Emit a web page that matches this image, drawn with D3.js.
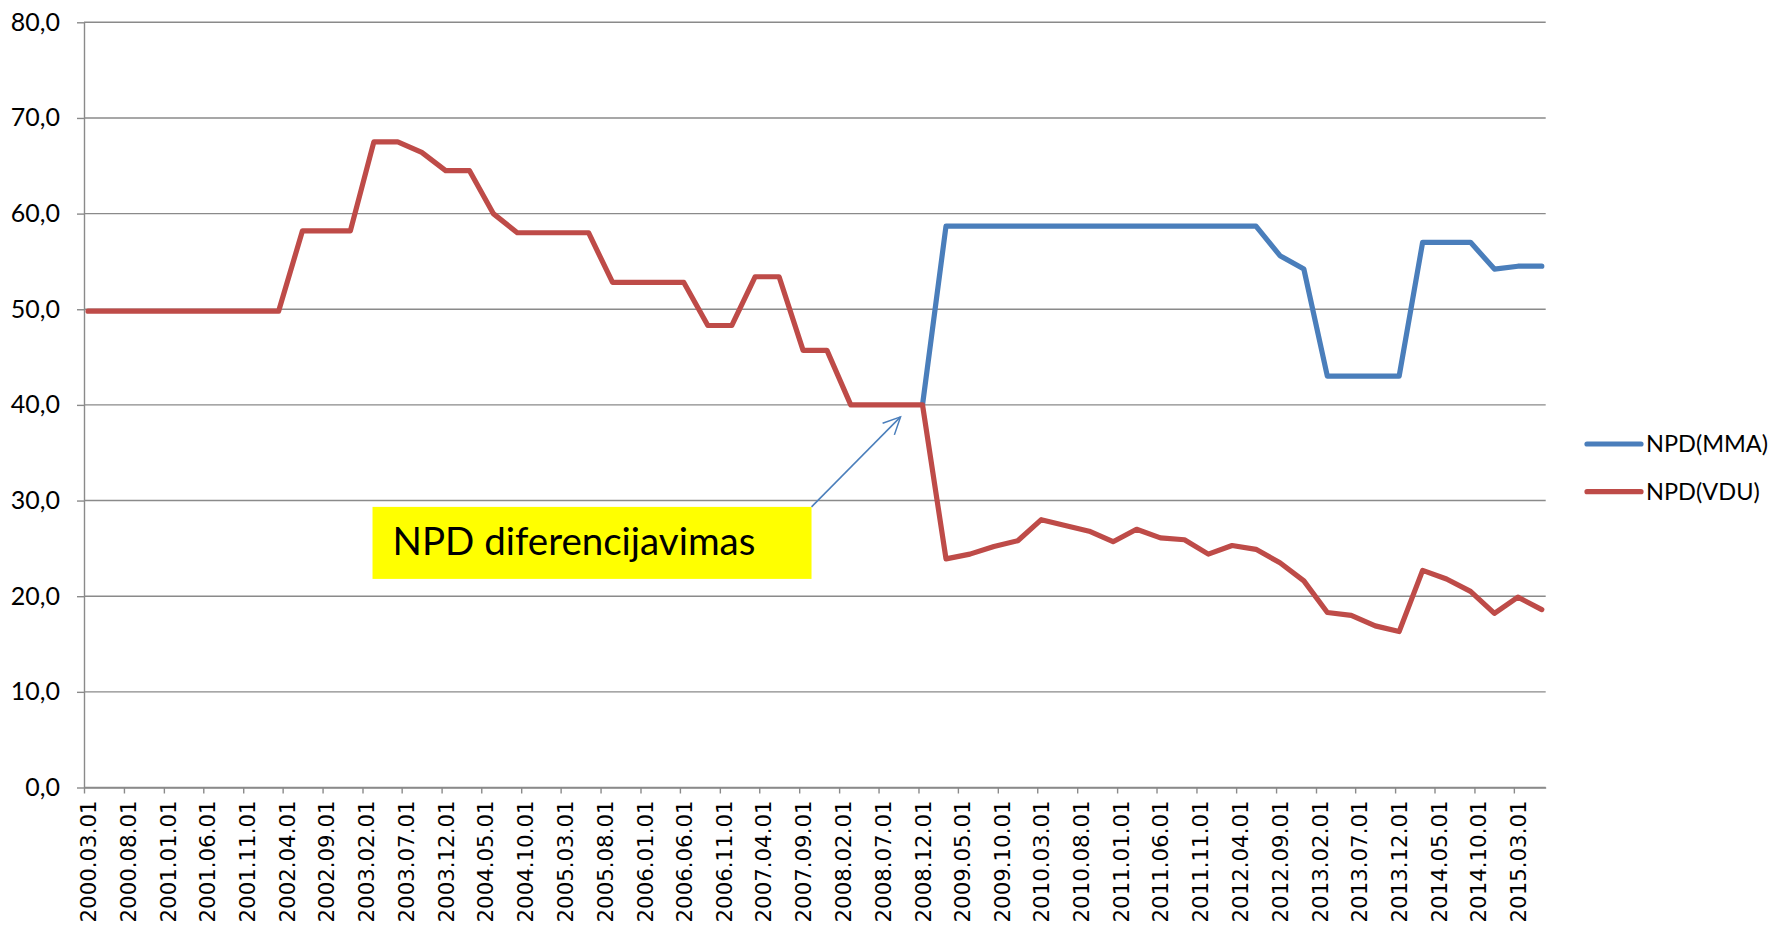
<!DOCTYPE html>
<html>
<head>
<meta charset="utf-8">
<script src="https://cdn.jsdelivr.net/npm/d3@7"></script>
<style>
  body { margin: 0; background: #fff; }
  svg { display: block; }
</style>
</head>
<body>
<svg class="npd-svg" width="1771" height="927"></svg>
<script>
// quarterly observation dates (first day of month)
const dates = [
  '2000.03.01', '2000.06.01', '2000.09.01', '2000.12.01', '2001.03.01', '2001.06.01', '2001.09.01', '2001.12.01',
  '2002.03.01', '2002.06.01', '2002.09.01', '2002.12.01', '2003.03.01', '2003.06.01', '2003.09.01', '2003.12.01',
  '2004.03.01', '2004.06.01', '2004.09.01', '2004.12.01', '2005.03.01', '2005.06.01', '2005.09.01', '2005.12.01',
  '2006.03.01', '2006.06.01', '2006.09.01', '2006.12.01', '2007.03.01', '2007.06.01', '2007.09.01', '2007.12.01',
  '2008.03.01', '2008.06.01', '2008.09.01', '2008.12.01', '2009.03.01', '2009.06.01', '2009.09.01', '2009.12.01',
  '2010.03.01', '2010.06.01', '2010.09.01', '2010.12.01', '2011.03.01', '2011.06.01', '2011.09.01', '2011.12.01',
  '2012.03.01', '2012.06.01', '2012.09.01', '2012.12.01', '2013.03.01', '2013.06.01', '2013.09.01', '2013.12.01',
  '2014.03.01', '2014.06.01', '2014.09.01', '2014.12.01', '2015.03.01', '2015.06.01'
]

const npdVdu = [
  49.8, 49.8, 49.8, 49.8, 49.8, 49.8, 49.8, 49.8,
  49.8, 58.2, 58.2, 58.2, 67.5, 67.5, 66.4, 64.5,
  64.5, 60.0, 58.0, 58.0, 58.0, 58.0, 52.8, 52.8,
  52.8, 52.8, 48.3, 48.3, 53.4, 53.4, 45.7, 45.7,
  40.0, 40.0, 40.0, 40.0, 23.9, 24.4, 25.2, 25.8,
  28.0, 27.4, 26.8, 25.7, 27.0, 26.1, 25.9, 24.4,
  25.3, 24.9, 23.5, 21.6, 18.3, 18.0, 16.9, 16.3,
  22.7, 21.8, 20.5, 18.2, 19.9, 18.6
]

const npdMma = [
  null, null, null, null, null, null, null, null,
  null, null, null, null, null, null, null, null,
  null, null, null, null, null, null, null, null,
  null, null, null, null, null, null, null, null,
  null, null, null, 40.0, 58.7, 58.7, 58.7, 58.7,
  58.7, 58.7, 58.7, 58.7, 58.7, 58.7, 58.7, 58.7,
  58.7, 58.7, 55.6, 54.2, 43.0, 43.0, 43.0, 43.0,
  57.0, 57.0, 57.0, 54.2, 54.5, 54.5
]

const tickLabels = [
  '2000.03.01', '2000.08.01', '2001.01.01', '2001.06.01', '2001.11.01', '2002.04.01', '2002.09.01', '2003.02.01',
  '2003.07.01', '2003.12.01', '2004.05.01', '2004.10.01', '2005.03.01', '2005.08.01', '2006.01.01', '2006.06.01',
  '2006.11.01', '2007.04.01', '2007.09.01', '2008.02.01', '2008.07.01', '2008.12.01', '2009.05.01', '2009.10.01',
  '2010.03.01', '2010.08.01', '2011.01.01', '2011.06.01', '2011.11.01', '2012.04.01', '2012.09.01', '2013.02.01',
  '2013.07.01', '2013.12.01', '2014.05.01', '2014.10.01', '2015.03.01'
]

const yTicks = [0, 10, 20, 30, 40, 50, 60, 70, 80]

const seriesNames = ['NPD(MMA)', 'NPD(VDU)']
const seriesColors = ['#4a7ebb', '#be4b48']

const parseDate = d3.timeParse('%Y.%m.%d')

const plotLeft = 84
const plotRight = 1545.7
const plotTop = 22.3
const plotBottom = 787.5

const svg = d3.select('.npd-svg')

// date axis, one month per slot, point sits in the middle of its month
const x = d3.scaleTime()
  .domain([parseDate('2000.03.01'), parseDate('2015.07.01')])
  .range([plotLeft, plotRight])
const midMonth = d => (x(d) + x(d3.timeMonth.offset(d, 1))) / 2

const y = d3.scaleLinear()
  .domain([0, 80])
  .range([plotBottom, plotTop])

const gridColor = '#8a8a8a'

// horizontal gridlines
svg.append('g')
  .attr('class', 'grid')
  .selectAll('line')
  .data(yTicks)
  .join('line')
  .attr('x1', plotLeft)
  .attr('x2', plotRight)
  .attr('y1', d => y(d))
  .attr('y2', d => y(d))
  .attr('stroke', gridColor)
  .attr('stroke-width', 1.4)

// y axis
const yAxis = svg.append('g')
  .attr('class', 'y axis')
  .attr('transform', `translate(${plotLeft},0)`)
  .call(d3.axisLeft(y)
    .tickValues(yTicks)
    .tickSize(7)
    .tickSizeOuter(0)
    .tickPadding(17)
    .tickFormat(d => d3.format('.1f')(d).replace('.', ',')))
yAxis.select('.domain').attr('stroke', gridColor).attr('stroke-width', 1.4)
yAxis.selectAll('.tick line').attr('stroke', gridColor).attr('stroke-width', 1.4)
yAxis.selectAll('.tick text')
  .attr('fill', '#000')
  .style('font-family', 'Lato, sans-serif')
  .style('font-size', '25px')

// x axis
const tickDates = tickLabels.map(parseDate)
const xAxis = svg.append('g')
  .attr('class', 'x axis')
  .attr('transform', `translate(0,${plotBottom})`)
  .call(d3.axisBottom(x)
    .tickValues(tickDates)
    .tickSize(6)
    .tickSizeOuter(0)
    .tickFormat((d, i) => tickLabels[i]))
xAxis.select('.domain').attr('stroke', gridColor).attr('stroke-width', 1.4)
xAxis.selectAll('.tick line').attr('stroke', gridColor).attr('stroke-width', 1.4)
xAxis.selectAll('.tick text')
  .attr('fill', '#000')
  .attr('text-anchor', 'end')
  .attr('dy', null)
  .attr('dominant-baseline', 'central')
  .attr('transform', d => `translate(${midMonth(d) - x(d)},13) rotate(-90)`)
  .attr('y', 0)
  .attr('x', 0)
  .style('font-family', '"DejaVu Sans", sans-serif')
  .style('font-size', '21.3px')

// lines
const rows = dates.map((d, i) => ({ date: parseDate(d), mma: npdMma[i], vdu: npdVdu[i] }))
const keys = ['mma', 'vdu']

keys.forEach((key, i) => {
  const line = d3.line()
    .defined(d => d[key] !== null)
    .x(d => midMonth(d.date))
    .y(d => y(d[key]))
  svg.append('path')
    .datum(rows)
    .attr('class', `line-${key}`)
    .attr('fill', 'none')
    .attr('stroke', seriesColors[i])
    .attr('stroke-width', 5.2)
    .attr('stroke-linejoin', 'round')
    .attr('stroke-linecap', 'round')
    .attr('d', line)
})

// annotation, anchored to the differentiation point (2008.12.01, 40)
const anchor = rows[35]
const ax = midMonth(anchor.date)
const ay = y(anchor.vdu)
const boxW = 439
const boxH = 72
const boxRight = ax - 111
const boxTop = ay + 102
const tipX = ax - 22
const tipY = ay + 12
const arrowColor = '#4a7ebb'

const note = svg.append('g').attr('class', 'annotation')
note.append('rect')
  .attr('x', boxRight - boxW)
  .attr('y', boxTop)
  .attr('width', boxW)
  .attr('height', boxH)
  .attr('fill', '#ffff00')
note.append('text')
  .attr('x', boxRight - boxW + 20)
  .attr('y', boxTop + 48.5)
  .attr('fill', '#000')
  .style('font-family', 'Lato, sans-serif')
  .style('font-size', '38.5px')
  .text('NPD diferencijavimas')

note.append('line')
  .attr('x1', boxRight)
  .attr('y1', boxTop)
  .attr('x2', tipX)
  .attr('y2', tipY)
  .attr('stroke', arrowColor)
  .attr('stroke-width', 1.5)

// open arrow head
const ang = Math.atan2(tipY - boxTop, tipX - boxRight)
const headLen = 19
const spread = 0.45
note.append('path')
  .attr('d', d3.line()([
    [tipX - headLen * Math.cos(ang - spread), tipY - headLen * Math.sin(ang - spread)],
    [tipX, tipY],
    [tipX - headLen * Math.cos(ang + spread), tipY - headLen * Math.sin(ang + spread)]
  ]))
  .attr('fill', 'none')
  .attr('stroke', arrowColor)
  .attr('stroke-width', 1.5)

// legend
const legend = svg.append('g')
  .attr('class', 'legend')
  .selectAll('g')
  .data(seriesNames)
  .join('g')
  .attr('transform', (d, i) => `translate(1587,${444 + i * 47.7})`)
legend.append('line')
  .attr('x1', 0)
  .attr('x2', 54)
  .attr('stroke', (d, i) => seriesColors[i])
  .attr('stroke-width', 5.2)
  .attr('stroke-linecap', 'round')
legend.append('text')
  .attr('x', 59)
  .attr('dy', '0.36em')
  .attr('fill', '#000')
  .style('font-family', 'Lato, sans-serif')
  .style('font-size', '23.5px')
  .text(d => d)
</script>
</body>
</html>
